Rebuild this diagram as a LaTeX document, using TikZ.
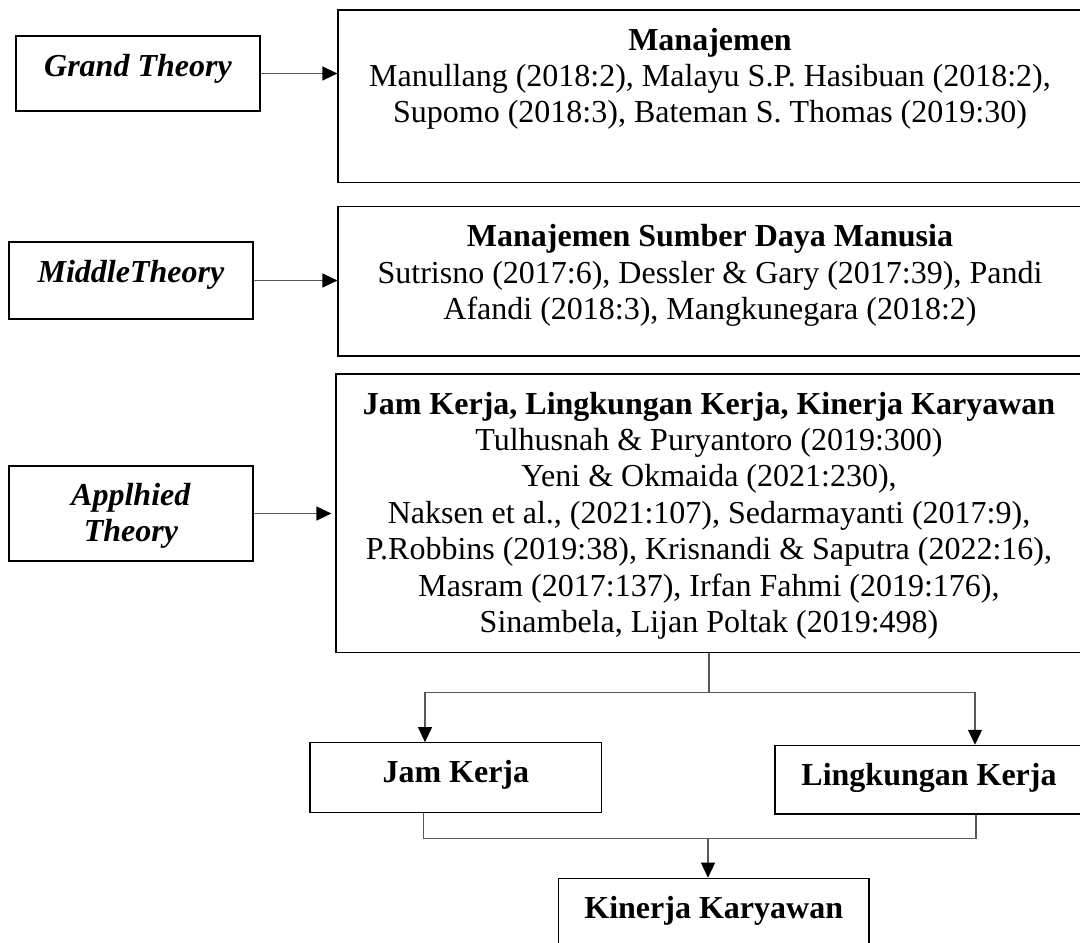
\documentclass[tikz,border=0pt]{standalone}
\usepackage{fontspec}
\setmainfont{Liberation Serif}
\usetikzlibrary{arrows.meta,positioning}

\tikzset{
  box/.style={draw=black, line width=0.6pt, inner sep=0pt},
  txt/.style={inner sep=0pt, align=center},
  conn/.style={draw=black!65, line width=0.6pt},
  arr/.style={conn, -{Triangle[length=7.5pt,width=7pt,color=black]}},
}

\begin{document}
\begin{tikzpicture}[x=0.5pt, y=-0.5pt, font=\fontsize{16}{18.2}\selectfont]
  \useasboundingbox (0,0) rectangle (1080,942);
  \clip (0,0) rectangle (1080,942);

  % theory levels (left)
  \node (grand) [box, minimum width=122pt, minimum height=37.5pt, text height=11pt, text depth=8.5pt] at (138,73.5) {\textbf{\textit{Grand Theory}}};
  \node (middle) [box, minimum width=122pt, minimum height=38.5pt, text height=11pt, text depth=9.5pt] at (131,280.5) {\textbf{\textit{MiddleTheory}}};
  \node (applied) [box, minimum width=122pt, minimum height=47.5pt] at (131,513.5) {};
  \node (appliedtxt) [txt, below=8.5pt of applied.north] {\textbf{\textit{Applhied}}\\ \textbf{\textit{Theory}}};

  % theory contents (right)
  \node (mgmt) [box, minimum width=372pt, minimum height=86.35pt] at (710,96.35) {};
  \node (mgmttxt) [txt, below=9pt of mgmt.north] {\textbf{Manajemen}\\
    Manullang (2018:2), Malayu S.P. Hasibuan (2018:2),\\
    Supomo (2018:3), Bateman S. Thomas (2019:30)};
  \node (sdm) [box, minimum width=372pt, minimum height=74.65pt] at (710,281.35) {};
  \node (sdmtxt) [txt, below=9pt of sdm.north] {\textbf{Manajemen Sumber Daya Manusia}\\
    Sutrisno (2017:6), Dessler \& Gary (2017:39), Pandi\\
    Afandi (2018:3), Mangkunegara (2018:2)};
  \node (big) [box, minimum width=373pt, minimum height=139.35pt] at (709,513.35) {};
  \node (bigtxt) [txt, below=9pt of big.north] {\textbf{Jam Kerja, Lingkungan Kerja, Kinerja Karyawan}\\
    Tulhusnah \& Puryantoro (2019:300)\\
    Yeni \& Okmaida (2021:230),\\
    Naksen et al., (2021:107), Sedarmayanti (2017:9),\\
    P.Robbins (2019:38), Krisnandi \& Saputra (2022:16),\\
    Masram (2017:137), Irfan Fahmi (2019:176),\\
    Sinambela, Lijan Poltak (2019:498)};

  % variables
  \node (jam) [box, minimum width=145.8pt, minimum height=34.8pt, text height=11pt, text depth=5.8pt] at (455.8,777.5) {\textbf{Jam Kerja}};
  \node (ling) [box, minimum width=154pt, minimum height=34.35pt, text height=11pt, text depth=5.7pt] at (929,779.7) {\textbf{Lingkungan Kerja}};
  \node (kin) [box, minimum width=155.3pt, minimum height=35pt, text height=11pt, text depth=6pt] at (713.7,913.3) {\textbf{Kinerja Karyawan}};

  \draw [arr] (grand.east) -- (grand.east -| mgmt.west);
  \draw [arr] (middle.east) -- (middle.east -| sdm.west);
  \draw [arr, shorten >=2pt] (applied.east) -- (applied.east -| big.west);

  \coordinate (split) at ([yshift=-19.65pt]big.south);
  \coordinate (jamin) at ([xshift=-15.4pt]jam.north);
  \coordinate (lingin) at ([xshift=23pt]ling.north);
  \draw [conn] (big.south) -- (split);
  \draw [arr] (split) -| (jamin);
  \draw [arr] (split) -| (lingin);

  \coordinate (jamout) at ([xshift=-16.25pt]jam.south);
  \coordinate (lingout) at ([xshift=23.5pt]ling.south);
  \coordinate (kinin) at ([xshift=-2.85pt]kin.north);
  \coordinate (merge) at ([yshift=19.65pt]kinin);
  \draw [conn] (jamout) |- (merge) -| (lingout);
  \draw [arr] (merge) -- (kinin);
\end{tikzpicture}
\end{document}
